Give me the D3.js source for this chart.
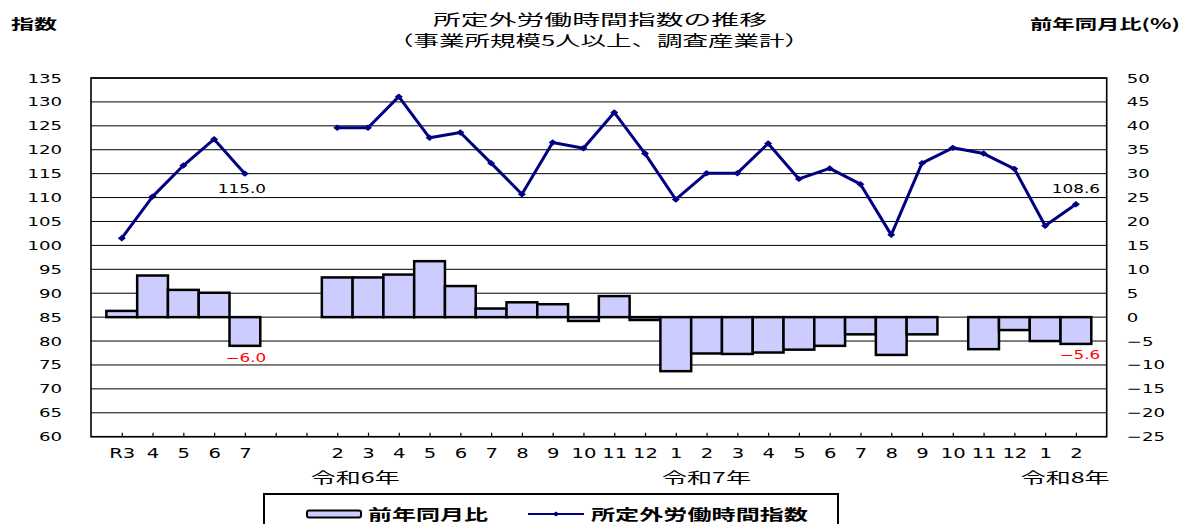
<!DOCTYPE html>
<html><head><meta charset="utf-8">
<script src="https://cdn.jsdelivr.net/npm/d3@7"></script>
<style>
html,body{margin:0;padding:0;background:#fff;}
svg{display:block;}
.num{font-family:"DejaVu Sans",sans-serif;}
.jp{font-family:"Noto Sans CJK JP","Noto Sans",sans-serif;}
</style></head>
<body>
<svg id="chart" width="1189" height="524"></svg>
<script>
// ---- data ----
const categories = ["R3","4","5","6","7","","","2","3","4","5","6","7","8","9","10","11","12","1","2","3","4","5","6","7","8","9","10","11","12","1","2"];
const indexValues = [101.5,110.2,116.7,122.2,115.0,null,null,124.6,124.6,131.1,122.5,123.6,117.2,110.7,121.5,120.3,127.8,119.2,109.6,115.1,115.1,121.3,113.9,116.1,112.8,102.2,117.2,120.4,119.2,116.0,104.1,108.6];
const yoyValues = [1.3,8.7,5.7,5.1,-6.0,null,null,8.3,8.3,8.9,11.7,6.5,1.8,3.1,2.7,-0.8,4.4,-0.6,-11.3,-7.6,-7.7,-7.4,-6.8,-6.0,-3.6,-7.9,-3.6,null,-6.7,-2.7,-5.0,-5.6];
const leftTicks = [60,65,70,75,80,85,90,95,100,105,110,115,120,125,130,135];
const rightTicks = [-25,-20,-15,-10,-5,0,5,10,15,20,25,30,35,40,45,50];
const yearLabels = ["令和6年","令和7年","令和8年"];
const yearLabelCats = [7,19,30];
const titleLines = ["所定外労働時間指数の推移","（事業所規模5人以上、調査産業計）"];
const leftAxisTitle = "指数";
const rightAxisTitle = "前年同月比(%)";
const seriesNames = ["前年同月比","所定外労働時間指数"];

// ---- layout ----
const svg = d3.select("#chart");
const L = 91, R = 1106.7, T = 78, B = 436.7;
const x = d3.scalePoint().domain(d3.range(categories.length)).range([L, R]).padding(1);
const step = x.step();
const yL = d3.scaleLinear().domain([60,135]).range([B, T]);
const yR = d3.scaleLinear().domain([-25,50]).range([B, T]);

function stretch(sel, k){
  sel.each(function(){
    const len = this.getComputedTextLength();
    this.setAttribute("textLength", len * k);
    this.setAttribute("lengthAdjust", "spacingAndGlyphs");
  });
}
function fit(sel, w){ sel.attr("textLength", w).attr("lengthAdjust","spacingAndGlyphs"); }

svg.append("rect").attr("width",1189).attr("height",524).attr("fill","#fff");

// gridlines
svg.append("g").selectAll("line").data(leftTicks).join("line")
  .attr("x1", L).attr("x2", R)
  .attr("y1", d => yL(d)).attr("y2", d => yL(d))
  .attr("stroke", "#000").attr("stroke-width", 1);

// bars
const barData = yoyValues.map((v,i)=>({i,v})).filter(d => d.v !== null);
svg.append("g").selectAll("rect").data(barData).join("rect")
  .attr("x", d => x(d.i) - step/2)
  .attr("width", step)
  .attr("y", d => yR(Math.max(0, d.v)))
  .attr("height", d => Math.abs(yR(d.v) - yR(0)))
  .attr("fill", "#CCCCFF").attr("stroke", "#000").attr("stroke-width", 2.5);

// frame
svg.append("rect").attr("x", L).attr("y", T).attr("width", R - L).attr("height", B - T)
  .attr("fill", "none").attr("stroke", "#000").attr("stroke-width", 1.6);

// x axis
const xAxis = svg.append("g").attr("transform", `translate(0,${B})`)
  .call(d3.axisBottom(x).tickFormat(i => categories[i]).tickSizeInner(-4).tickSizeOuter(0).tickPadding(12));
xAxis.select(".domain").remove();
xAxis.selectAll(".tick line").attr("stroke", "#000").attr("stroke-width", 1.2);
xAxis.selectAll("text").attr("class","num").attr("font-size", 13.5).attr("fill","#000");
stretch(xAxis.selectAll("text"), 1.45);

// left axis
const yAxisL = svg.append("g").attr("transform", `translate(${L},0)`)
  .call(d3.axisLeft(yL).tickValues(leftTicks).tickSize(0).tickPadding(29));
yAxisL.select(".domain").remove();
yAxisL.selectAll("text").attr("class","num").attr("font-size", 12.5).attr("fill","#000");
stretch(yAxisL.selectAll("text"), 1.45);

// right axis
const yAxisR = svg.append("g").attr("transform", `translate(${R},0)`)
  .call(d3.axisRight(yR).tickValues(rightTicks).tickSize(0).tickPadding(20));
yAxisR.select(".domain").remove();
yAxisR.selectAll("text").attr("class","num").attr("font-size", 12.5).attr("fill","#000");
stretch(yAxisR.selectAll("text"), 1.45);

// line
const lineGen = d3.line().defined(d => d.v !== null).x(d => x(d.i)).y(d => yL(d.v));
const lineData = indexValues.map((v,i)=>({i,v}));
svg.append("path").datum(lineData).attr("d", lineGen)
  .attr("fill","none").attr("stroke","#000080").attr("stroke-width",3).attr("stroke-linejoin","round");
const diamond = (cx, cy, hw, hh) => `M${cx-hw},${cy}L${cx},${cy-hh}L${cx+hw},${cy}L${cx},${cy+hh}Z`;
svg.append("g").selectAll("path").data(lineData.filter(d => d.v !== null)).join("path")
  .attr("d", d => diamond(x(d.i), yL(d.v), 4, 3.2))
  .attr("fill","#000080");

// data labels
const lab = svg.append("g").attr("class","num").attr("font-size",12).attr("text-anchor","middle");
lab.append("text").attr("x", x(4) - 3).attr("y", yL(indexValues[4]) + 19.6).attr("fill","#000").text(indexValues[4].toFixed(1));
lab.append("text").attr("x", x(31)).attr("y", yL(indexValues[31]) - 11.7).attr("fill","#000").text(indexValues[31].toFixed(1));
lab.append("text").attr("x", x(4) + 1).attr("y", yR(yoyValues[4]) + 16.6).attr("fill","#FF0000").text(d3.format(".1f")(yoyValues[4]));
lab.append("text").attr("x", x(31) + 4).attr("y", yR(yoyValues[31]) + 15.4).attr("fill","#FF0000").text(d3.format(".1f")(yoyValues[31]));
stretch(lab.selectAll("text"), 1.4);

// year labels
const yearOffsets = [18, 0, 20];
svg.append("g").attr("class","jp").attr("font-size",15).attr("text-anchor","middle")
  .selectAll("text").data(yearLabels).join("text")
  .attr("x", (d,k) => x(yearLabelCats[k]) + yearOffsets[k])
  .attr("y", 483).attr("fill","#000").text(d => d)
  .call(fit, 89);

// title
const t1 = svg.append("text").attr("class","jp").attr("x",600).attr("y",25).attr("font-size",14.5)
  .attr("text-anchor","middle").attr("fill","#000").text(titleLines[0]);
fit(t1, 334);
const t2 = svg.append("text").attr("class","jp").attr("x",599).attr("y",46).attr("font-size",14.5)
  .attr("text-anchor","middle").attr("fill","#000").text(titleLines[1]);
fit(t2, 422);

const lt = svg.append("text").attr("class","jp").attr("x",11).attr("y",29).attr("font-size",14)
  .attr("font-weight","bold").attr("fill","#000").text(leftAxisTitle);
fit(lt, 46);
const rt = svg.append("text").attr("class","jp").attr("x",1030).attr("y",29).attr("font-size",14)
  .attr("font-weight","bold").attr("fill","#000").text(rightAxisTitle);
fit(rt, 150);

// legend
const lg = svg.append("g");
lg.append("rect").attr("x",264).attr("y",494).attr("width",574).attr("height",45)
  .attr("fill","#fff").attr("stroke","#000").attr("stroke-width",2);
lg.append("rect").attr("x",307).attr("y",510.5).attr("width",54).attr("height",7).attr("rx",2)
  .attr("fill","#CCCCFF").attr("stroke","#000").attr("stroke-width",2);
const lt1 = lg.append("text").attr("class","jp").attr("x",368).attr("y",519.5).attr("font-size",15)
  .attr("font-weight","bold").attr("fill","#000").text(seriesNames[0]);
fit(lt1, 120);
lg.append("line").attr("x1",528).attr("x2",584).attr("y1",514).attr("y2",514)
  .attr("stroke","#000080").attr("stroke-width",2);
lg.append("path").attr("d", diamond(556, 514, 3.5, 2.5)).attr("fill","#000080");
const lt2 = lg.append("text").attr("class","jp").attr("x",591).attr("y",519.5).attr("font-size",15)
  .attr("font-weight","bold").attr("fill","#000").text(seriesNames[1]);
fit(lt2, 217);
</script>
</body></html>
